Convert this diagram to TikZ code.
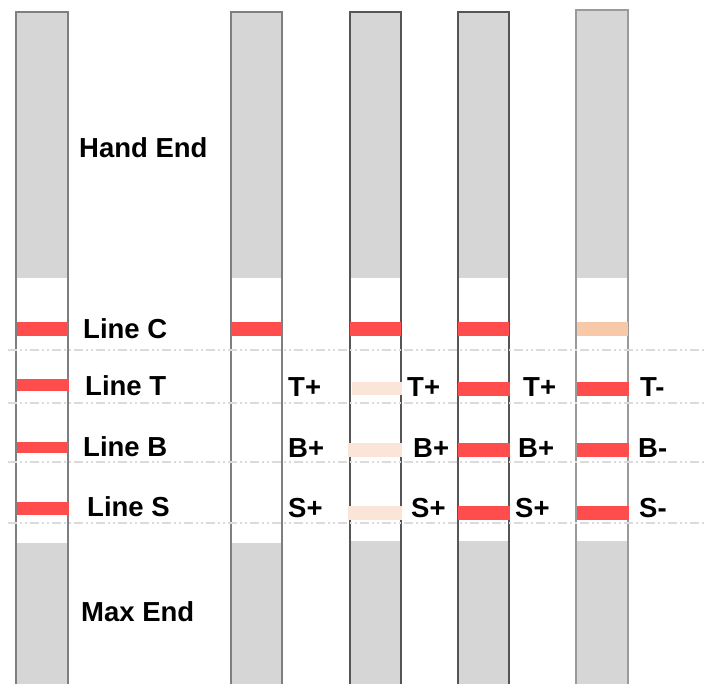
\documentclass[tikz,border=0pt]{standalone}
\usepackage{fontspec}
\setmainfont{Liberation Sans}
\begin{document}
\begin{tikzpicture}[x=1pt,y=-1pt,
  lbl/.style={font=\fontsize{27.5}{32}\selectfont\bfseries, text=black, inner sep=0pt, anchor=base west},
  guide/.style={draw=black!14, line width=1.3pt, dash pattern=on 9pt off 3pt on 2pt off 3pt on 2pt off 3pt},
  stripfill/.style={fill=black!16},
  bandred/.style={fill=bred},
  bandpale/.style={fill=bpale},
  bandpeach/.style={fill=bpeach}]
\definecolor{bred}{HTML}{FF4D4D}
\definecolor{bpale}{HTML}{FBE5D8}
\definecolor{bpeach}{HTML}{F7C9A8}
\definecolor{bordA}{HTML}{7F7F7F}
\definecolor{bordB}{HTML}{555555}
\definecolor{bordC}{HTML}{9A9A9A}
\useasboundingbox[fill=white] (0,0) rectangle (707,683);
\clip (0,0) rectangle (707,683);
% strips: #1 left x, #2 right x, #3 top, #4 bottom of white window, #5 border colour
\newcommand{\teststrip}[5]{%
  \fill[stripfill] (#1,#3) rectangle (#2,690);
  \fill[white] (#1,278) rectangle (#2,#4);
  \draw[#5, line width=1.8pt] (#1,690) -- (#1,#3) -- (#2,#3) -- (#2,690);
}
\teststrip{16}{68}{12}{543}{bordA}
\teststrip{231}{282}{12}{543}{bordA}
\teststrip{350}{401}{12}{541}{bordB}
\teststrip{458}{509}{12}{541}{bordB}
\teststrip{576}{628}{10}{541}{bordC}
% guide lines
\foreach \yy in {350,403,462,523} \draw[guide] (8,\yy) -- (707,\yy);
% strip 1 bands
\fill[bandred] (17,322) rectangle (67.5,336);
\fill[bandred] (17,379) rectangle (69,391);
\fill[bandred] (17,442) rectangle (67.5,453);
\fill[bandred] (17,502) rectangle (69,515);
% strip 2
\fill[bandred] (231.5,322) rectangle (281.5,336);
% strip 3
\fill[bandred] (350,322) rectangle (401,336);
\fill[bandpale] (352,382) rectangle (402,395);
\fill[bandpale] (348,443) rectangle (402,457);
\fill[bandpale] (348,506) rectangle (402,520);
% strip 4
\fill[bandred] (458,322) rectangle (509,336);
\fill[bandred] (458,382) rectangle (510,396);
\fill[bandred] (458,443) rectangle (510,457);
\fill[bandred] (458,506) rectangle (510,520);
% strip 5
\fill[bandpeach] (577,322) rectangle (628,336);
\fill[bandred] (577,382) rectangle (629,396);
\fill[bandred] (577,443) rectangle (629,457);
\fill[bandred] (577,506) rectangle (629,520);
% labels
\node[lbl] (hand) at (79,157) {Hand End};
\node[lbl] (lc) at (83,338) {Line C};
\node[lbl] (lt) at (85,395) {Line T};
\node[lbl] (lb) at (83,456) {Line B};
\node[lbl] (ls) at (87,516) {Line S};
\node[lbl] (max) at (81,621) {Max End};
\node[lbl] (t2) at (288,396) {T+};
\node[lbl] (b2) at (288,457) {B+};
\node[lbl] (s2) at (288,517) {S+};
\node[lbl] (t3) at (407,396) {T+};
\node[lbl] (b3) at (413,457) {B+};
\node[lbl] (s3) at (411,517) {S+};
\node[lbl] (t4) at (523,396) {T+};
\node[lbl] (b4) at (518,457) {B+};
\node[lbl] (s4) at (515,517) {S+};
\node[lbl] (t5) at (640,396) {T-};
\node[lbl] (b5) at (638,457) {B-};
\node[lbl] (s5) at (639,517) {S-};
\end{tikzpicture}
\end{document}
